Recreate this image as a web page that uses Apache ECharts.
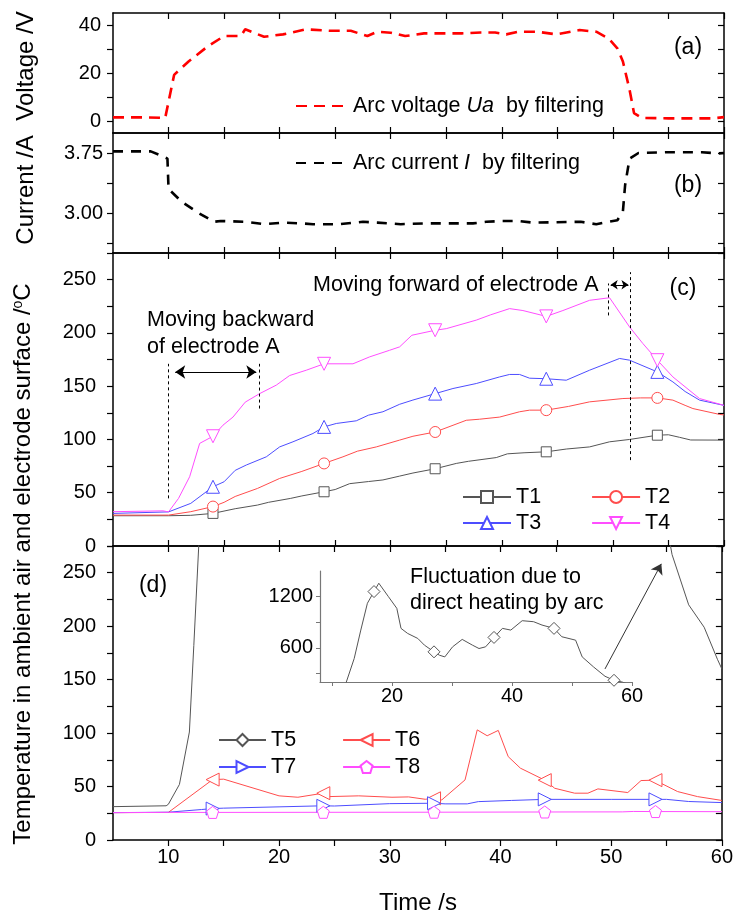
<!DOCTYPE html>
<html><head><meta charset="utf-8">
<script src="https://cdn.jsdelivr.net/npm/echarts@6/dist/echarts.min.js"></script>
<style>html,body{margin:0;padding:0;background:#fff}#c{width:736px;height:918px}</style>
</head><body><div id="c"></div>
<script>
// ---------------- data ----------------
const xTickVals = [10,15,20,25,30,35,40,45,50,55,60];
const xLabelVals = [10,20,30,40,50,60];
const voltTicks = [0,10,20,30,40];
const voltLabels = [0,20,40];
const currTicks = [2.625,3.0,3.375,3.75];
const currLabels = [3.0,3.75];
const tempTicks = [0,25,50,75,100,125,150,175,200,225,250,275];
const tempLabels = [0,50,100,150,200,250];
const insetXTicks = [10,20,30,40,50,60];
const insetXLabels = [20,40,60];
const insetYTicks = [300,600,900,1200];
const insetYLabels = [600,1200];

const voltage = [[5,1.5],[8,1.5],[9.7,1.3],[10.5,19.2],[11.8,24.8],[13.5,31],[15,35.4],[16.5,35.4],[16.9,38.2],[18.6,35.1],[20.3,36.1],[22.4,38.2],[24.5,37.6],[26.4,37.6],[27.9,35.4],[28.8,37.2],[30,36.8],[31.3,35.4],[33,36.5],[36.4,36.5],[38.1,36.9],[39.4,36.9],[40.4,36.1],[41.5,37.2],[43.2,37.2],[44.9,36.1],[47,37.9],[48.5,37.2],[49.6,34.4],[50.4,30.3],[50.9,24.8],[51.5,13],[51.9,3.3],[52.6,1.3],[55,1.1],[59,1.1],[60,1.6]];
const current = [[5,3.77],[8.4,3.77],[9.3,3.72],[9.9,3.68],[10,3.3],[11.2,3.14],[12.7,3.0],[14.1,2.89],[14.7,2.9],[16.9,2.89],[18.6,2.86],[20.3,2.88],[22,2.87],[23,2.86],[25.4,2.86],[27.5,2.89],[28.8,2.88],[30.9,2.86],[33,2.87],[37.4,2.87],[38.6,2.89],[40,2.9],[41.5,2.9],[42.8,2.88],[44.9,2.885],[47.1,2.89],[48.5,2.86],[49.6,2.89],[50.4,2.91],[50.9,3.02],[51.1,3.35],[51.5,3.68],[52.3,3.75],[55,3.76],[58,3.76],[59.5,3.745],[60,3.75]];

const T1 = [[5,28.4],[10,28.4],[12,28.8],[14,30.6],[16,35],[18,38.4],[19,41],[21,44.7],[22,47],[24,50.9],[25,53],[26.3,58.5],[28,60.5],[29.3,62],[30.8,65.6],[32,68.5],[34,72.5],[35.9,77.5],[37,79.5],[39.5,83],[40.5,86.5],[42,87.5],[44,88.4],[45.8,91],[47.9,93],[49.7,97.8],[51.5,100],[54,104],[55,104.4],[56,102],[57,99.5],[60,99.4]];
const T2 = [[5,29],[10,29],[12,32.2],[14,37],[15,41],[16,46.5],[18,54],[20,63.4],[22,70],[24,77.5],[25.7,83.7],[27,89],[28.7,93],[30.8,99.4],[32,103],[34,107],[36.8,118],[38,119],[39.8,121],[41.6,126],[42.5,127.5],[44,127.5],[46,131],[47.9,135.3],[50.9,138.4],[52.5,139],[54,139],[55.4,136.9],[56.5,132],[57.2,129],[59.6,123.5],[60,123]];
const T3 = [[5,30.6],[10,32],[12,40],[14,55.6],[15,60.3],[16,71],[17,76],[18.8,83.7],[20,93],[21.2,97.8],[23,105.6],[24,111.8],[25.1,115],[26.9,117.5],[28,122.8],[29.3,126],[30.8,133],[32,137],[34,143],[35.6,147.8],[37.7,152.5],[39.8,158.7],[40.7,161],[41.6,161],[42.5,157.5],[44,157],[45.8,155.6],[47.9,165],[50.6,176],[51.5,174.4],[54,163.4],[55.4,154],[56.5,145],[57.8,136.9],[60,132]];
const T4 = [[5,32.2],[9.5,33],[10,32],[10.9,44.7],[11.9,65],[12.8,96.3],[14,103],[14.9,113.4],[15.8,121],[16.9,135],[18.2,143],[19.7,151],[20.9,160],[22.4,165],[24,171],[26.6,171],[28.1,177.5],[29.9,183.7],[30.8,186.9],[31.9,197.8],[34,202.5],[35,204],[37.7,212],[39,217],[40.7,222.8],[41.9,221],[44,215.5],[45.5,221],[47.9,230.6],[49.7,233],[51.5,205.6],[52.7,190],[54,174.4],[55.4,158.7],[57.8,138.4],[60,132]];
const T5 = [[5,31.2],[9.8,32],[10,33.4],[11,52],[11.9,101],[12.3,182],[13.7,475],[14.8,808],[15.9,1122],[17,1259],[17.8,1357],[19.4,1200],[20.8,1063],[21.5,828],[22.6,769],[24.3,710],[25.4,632],[27,553],[27.9,514],[28.8,494],[30.1,612],[31.7,699],[33.4,632],[34.5,592],[35.6,612],[37,722],[38.4,828],[39.8,808],[41.7,918],[43.6,906],[45,867],[47,828],[48.3,730],[50.6,690],[51.7,494],[53.6,376],[55.5,267],[57,220],[58.4,199],[59.6,169],[60,160]];
const T6 = [[5,25.6],[10,25.8],[14,56.5],[15,56.9],[20,41.3],[21.7,40],[24,43.8],[24.5,40.6],[27.2,41.3],[30.2,40],[31.7,40.3],[33.2,38.1],[34,39],[34.7,37.5],[36.8,56.2],[37.9,103],[38.8,97.5],[39.8,102.5],[40.7,78],[41.8,67.2],[44,56],[44.9,48.4],[46.7,43.8],[47.9,43.8],[48.8,47.8],[51.5,44.4],[52.7,55.6],[54,56],[54.5,53.1],[56,45.3],[57.8,40.6],[60,37]];
const T7 = [[5,25.6],[10,26],[13,28.5],[14,29.4],[15,29.8],[20,31],[24,32],[25,31.8],[30,34],[34,34.4],[35,33.8],[37,33.8],[38,35.9],[41,37],[44,38],[50,38],[54,38],[55,38],[57,36],[60,35]];
const T8 = [[5,25.6],[10,25.8],[14,25.8],[24,25.9],[34,26],[44,26.2],[51,26.3],[52,26.7],[54,26.6],[60,26.5]];
const markTimes = [14,24,34,44,54];
const markTimesT5 = [17,27,37,47,57];

// ---------------- helpers ----------------
const FF = '"Liberation Sans", Arial, Helvetica, sans-serif';
const BLACK = '#000';
function withMarks(arr, times){
  return arr.map(p => times.includes(p[0]) ? {value:p} : {value:p, symbol:'none'});
}
function xPair(gi, showLabels){
  const line = {show:true, onZero:false, lineStyle:{color:BLACK, width:1.5}};
  return [
    {type:'value', gridIndex:gi, position:'bottom', min:5, max:60, splitLine:{show:false}, axisLine:line,
     axisTick:{show:true, inside:!showLabels, length:6, customValues:xTickVals, lineStyle:{color:BLACK, width:1.2}},
     axisLabel:{show:showLabels, customValues:xLabelVals, formatter:v => String(v), margin:7, fontSize:20, fontFamily:FF, color:BLACK}},
    {type:'value', gridIndex:gi, position:'top', min:5, max:60, splitLine:{show:false}, axisLine:line,
     axisTick:{show:true, inside:true, length:6, customValues:xTickVals, lineStyle:{color:BLACK, width:1.2}},
     axisLabel:{show:false}}
  ];
}
function yPair(gi, min, max, ticks, labels, fmt, margin){
  const line = {show:true, onZero:false, lineStyle:{color:BLACK, width:1.5}};
  return [
    {type:'value', gridIndex:gi, position:'left', min, max, splitLine:{show:false}, axisLine:line,
     axisTick:{show:true, inside:false, length:6, customValues:ticks, lineStyle:{color:BLACK, width:1.2}},
     axisLabel:{show:true, customValues:labels, formatter:fmt, margin, fontSize:20, fontFamily:FF, color:BLACK}},
    {type:'value', gridIndex:gi, position:'right', min, max, splitLine:{show:false}, axisLine:line,
     axisTick:{show:true, inside:true, length:6, customValues:ticks, lineStyle:{color:BLACK, width:1.2}},
     axisLabel:{show:false}}
  ];
}
function markSeries(name, arr, times, color, symbol, size, rot, gi, extra){
  return Object.assign({
    type:'line', name, xAxisIndex:gi, yAxisIndex:gi, data:withMarks(arr, times),
    symbol, symbolSize:size, symbolRotate:rot, showSymbol:true, showAllSymbol:true,
    lineStyle:{color, width:1}, itemStyle:{color:'#fff', borderColor:color, borderWidth:1},
    emphasis:{disabled:true}, animation:false, z:3
  }, extra || {});
}
const PENT = 'path://M0,-10L9.51,-3.09L5.88,8.09L-5.88,8.09L-9.51,-3.09Z';
const C1='#555555', C2='#ff4d4d', C3='#4d4dff', C4='#ff4dff';

const dashStyle = {color:BLACK, width:1, type:[3,3]};
const solidStyle = {color:BLACK, width:1, type:'solid'};

const series = [
  {type:'line', name:'Arc voltage', xAxisIndex:0, yAxisIndex:0, data:voltage, symbol:'none', showSymbol:false,
   lineStyle:{color:'#ff0000', width:2.6, type:[11,7]}, animation:false, emphasis:{disabled:true}},
  {type:'line', name:'Arc current', xAxisIndex:2, yAxisIndex:2, data:current, symbol:'none', showSymbol:false,
   lineStyle:{color:BLACK, width:2.6, type:[10,8]}, animation:false, emphasis:{disabled:true}},
  markSeries('T1', T1, markTimes, C1, 'rect', 10, 0, 4),
  markSeries('T2', T2, markTimes, C2, 'circle', 11, 0, 4),
  markSeries('T3', T3, markTimes, C3, 'triangle', 13, 0, 4),
  markSeries('T4', T4, markTimes, C4, 'triangle', 13, 180, 4, {
    markLine:{silent:true, animation:false, symbol:['none','none'], label:{show:false}, lineStyle:dashStyle,
      data:[
        [{coord:[10,44.7]},{coord:[10,171]}],
        [{coord:[18.2,129]},{coord:[18.2,171]}],
        [{coord:[10.6,163.3], symbol:'arrow', symbolSize:10, lineStyle:solidStyle},{coord:[17.9,163.3], symbol:'arrow', symbolSize:10, lineStyle:solidStyle}],
        [{coord:[49.6,216.4]},{coord:[49.6,246.4]}],
        [{coord:[51.6,80.6]},{coord:[51.6,257]}],
        [{coord:[49.8,245.2], symbol:'arrow', symbolSize:7, lineStyle:solidStyle},{coord:[51.4,245.2], symbol:'arrow', symbolSize:7, lineStyle:solidStyle}]
      ]}
  }),
  markSeries('T5', T5, [], '#555555', 'diamond', 12, 0, 6),
  markSeries('T6', T6, markTimes, C2, 'triangle', 13, 90, 6, {
    markLine:{silent:true, animation:false, symbol:['none','arrow'], symbolSize:10, label:{show:false},
      lineStyle:{color:'#333', width:1, type:'solid'},
      data:[[{coord:[49.44,160]},{coord:[54.53,258.3]}]]}
  }),
  markSeries('T7', T7, markTimes, C3, 'triangle', 13, -90, 6),
  markSeries('T8', T8, markTimes, C4, PENT, 12, 0, 6),
  markSeries('T5 inset', T5, markTimesT5, '#555555', 'diamond', 12, 0, 8)
];

const xAxis = [].concat(xPair(0,false), xPair(1,false), xPair(2,false), xPair(3,true), [
  {type:'value', gridIndex:4, min:8, max:60, splitLine:{show:false},
   axisLine:{show:true, onZero:false, lineStyle:{color:'#777', width:1.2}},
   axisTick:{show:true, inside:false, length:4, customValues:insetXTicks, lineStyle:{color:'#777'}},
   axisLabel:{customValues:insetXLabels, formatter:v => String(v), margin:4, fontSize:20, fontFamily:FF, color:BLACK}}
]);
const yAxis = [].concat(
  yPair(0, -5, 45, voltTicks, voltLabels, v => String(v), 12),
  yPair(1, 2.5, 4.0, currTicks, currLabels, v => v.toFixed(2), 10),
  yPair(2, 0, 275, tempTicks, tempLabels, v => String(v), 17),
  yPair(3, 0, 275, tempTicks, tempLabels, v => String(v), 17),
  [{type:'value', gridIndex:4, min:200, max:1500, splitLine:{show:false},
    axisLine:{show:true, onZero:false, lineStyle:{color:'#777', width:1.2}},
    axisTick:{show:true, inside:false, length:4, customValues:insetYTicks, lineStyle:{color:'#777'}},
    axisLabel:{customValues:insetYLabels, formatter:v => String(v), margin:7, fontSize:20, fontFamily:FF, color:BLACK}}]
);

const legTxt = {fontSize:21.5, fontFamily:FF, color:BLACK};
const legendBase = {selectedMode:false, padding:0, orient:'horizontal', textStyle:legTxt};
const legend = [
  Object.assign({}, legendBase, {data:['Arc voltage'], left:295, top:95, itemWidth:52, itemHeight:14,
    itemStyle:{opacity:0},
    formatter:() => 'Arc voltage {i|Ua}  by filtering',
    textStyle:Object.assign({}, legTxt, {rich:{i:{fontStyle:'italic', fontSize:21.5, fontFamily:FF}}})}),
  Object.assign({}, legendBase, {data:['Arc current'], left:295, top:152, itemWidth:52, itemHeight:14,
    itemStyle:{opacity:0},
    formatter:() => 'Arc current {i|I}  by filtering',
    textStyle:Object.assign({}, legTxt, {rich:{i:{fontStyle:'italic', fontSize:21.5, fontFamily:FF}}})}),
  Object.assign({}, legendBase, {data:['T1','T2'], left:462, top:486, itemWidth:48, itemHeight:15, itemGap:50}),
  Object.assign({}, legendBase, {data:['T3','T4'], left:462, top:512, itemWidth:48, itemHeight:15, itemGap:50}),
  Object.assign({}, legendBase, {data:['T5','T6'], left:218, top:729, itemWidth:47, itemHeight:15, itemGap:46}),
  Object.assign({}, legendBase, {data:['T7','T8'], left:218, top:756, itemWidth:47, itemHeight:15, itemGap:46})
];

function txt(text, x, y, size, align, rot){
  return {type:'text', x, y, rotation:rot||0, silent:true, z:10,
    style:{text, fontSize:size, fontFamily:FF, fill:BLACK, align:align||'left', verticalAlign:'middle'}};
}
const graphic = [
  txt('Voltage /V', 26, 66, 24, 'center', Math.PI/2),
  txt('Current /A', 26, 190, 24, 'center', Math.PI/2),
  {type:'text', x:23, y:564, rotation:Math.PI/2, silent:true,
   style:{text:'{n|Temperature in ambient air and electrode surface /}{s|o}{n|C}', fill:BLACK, align:'center', verticalAlign:'middle',
     rich:{n:{fontSize:24, fontFamily:FF, fill:BLACK, verticalAlign:'middle'}, s:{fontSize:14, fontFamily:FF, fill:BLACK, verticalAlign:'top'}}}},
  txt('Time /s', 418, 903, 24, 'center'),
  txt('Moving backward', 147, 320, 21.5),
  txt('of electrode A', 147, 347, 21.5),
  txt('Moving forward of electrode A', 313, 285, 21.5),
  txt('Fluctuation due to', 410, 577, 21.5),
  txt('direct heating by arc', 410, 603, 21.5),
  txt('(a)', 688, 48, 23, 'center'),
  txt('(b)', 688, 186, 23, 'center'),
  txt('(c)', 683, 289, 23, 'center'),
  txt('(d)', 153, 586, 23, 'center')
];

const option = {
  animation:false,
  backgroundColor:'#fff',
  textStyle:{fontFamily:FF, color:BLACK},
  grid:[
    {left:113, top:13, width:611, height:120},
    {left:113, top:133, width:611, height:120},
    {left:113, top:253, width:611, height:293},
    {left:113, top:546, width:611, height:294},
    {left:320, top:571, width:312, height:111}
  ],
  xAxis, yAxis, series, legend, graphic
};
const chart = echarts.init(document.getElementById('c'), null, {renderer:'canvas'});
chart.setOption(option);
</script>
</body></html>
